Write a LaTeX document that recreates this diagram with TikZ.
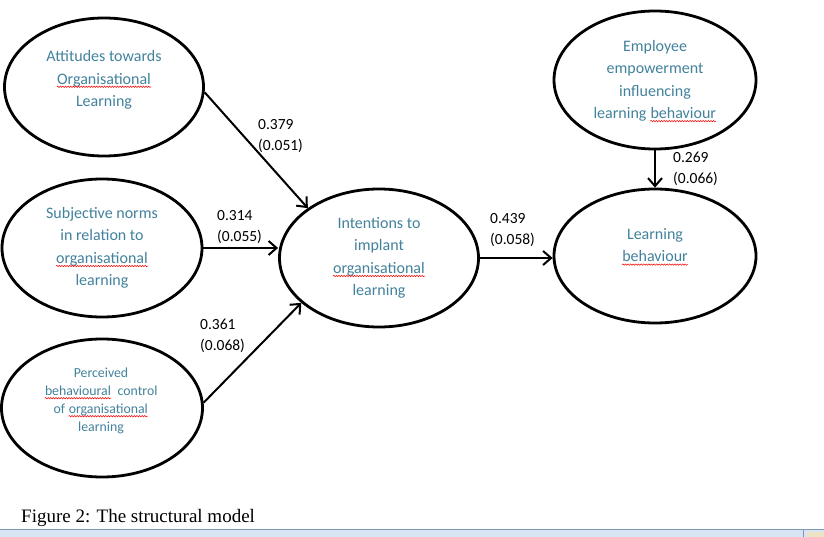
\documentclass[tikz,border=0pt]{standalone}
\usepackage{fontspec}
\setmainfont{Carlito}
\newfontfamily\captionfont{Liberation Serif}
\usepackage{xcolor}
\usetikzlibrary{
  shapes.geometric,
  arrows.meta,
  backgrounds,
  decorations.pathmorphing
}
\definecolor{mytextcolor}{RGB}{66,130,156}
\definecolor{mybarcolor}{RGB}{216,228,244}
\definecolor{mybarline}{RGB}{125,155,175}
\definecolor{mybeige}{RGB}{236,226,196}
\newcommand{\spellwave}[1]{\tikz[baseline=(word.base)]{\node[inner sep=0pt] (word) {#1}; \draw[red, line width=0.5pt, decorate, decoration={snake, amplitude=0.7pt, segment length=2.6pt}] ([yshift=-2.6pt]word.base west) -- ([yshift=-2.6pt]word.base east);}}

\begin{document}
\begin{tikzpicture}[
  x=1pt, y=-1pt,
  my_oval/.style={
    draw,
    ellipse,
    line width=2.8pt,
    minimum width=199pt,
    minimum height=138pt,
    inner sep=0pt,
  },
  my_text/.style={
    align=center,
    text=mytextcolor,
    inner sep=0pt,
    font=\fontsize{16}{22.5}\selectfont,
  },
  my_coef/.style={
    align=left,
    anchor=west,
    inner sep=0pt,
    font=\fontsize{15.5}{21}\selectfont,
  },
  my_arrow/.style={
    line width=2pt,
    -{Straight Barb[length=8pt,width=14pt]},
  }
  ]

  \path[use as bounding box] (0,0) rectangle (824,537);

  \begin{scope}[on background layer]
    \fill[white] (current bounding box.south west) rectangle (current bounding box.north east);
  \end{scope}

  \node[my_oval] (attitudes) at (104,87) {};
  \node[my_text] (attitudes_text) at (104,80) {Attitudes towards\\\spellwave{Organisational}\\Learning};

  \node[my_oval, minimum width=200pt] (norms) at (102,248) {};
  \node[my_text] (norms_text) at (102,248) {Subjective norms\\in relation to\\\spellwave{organisational}\\learning};

  \node[my_oval, minimum width=201pt] (control) at (102,408) {};
  \node[my_text, font=\fontsize{13.8}{18}\selectfont] (control_text) at (101,401) {Perceived\\\spellwave{behavioural}\ \ control\\of \spellwave{organisational}\\learning};

  \node[my_oval] (intentions) at (379,258) {};
  \node[my_text] (intentions_text) at (379,258) {Intentions to\\implant\\\spellwave{organisational}\\learning};

  \node[my_oval, minimum width=202pt, minimum height=134pt] (behaviour) at (655,256) {};
  \node[my_text] (behaviour_text) at (655,247) {Learning\\\spellwave{behaviour}};

  \node[my_oval, minimum width=202pt] (empowerment) at (655,80) {};
  \node[my_text] (empowerment_text) at (655,81) {Employee\\empowerment\\influencing\\learning \spellwave{behaviour}};

  \draw[my_arrow] (attitudes.-3) -- (intentions.145);
  \draw[my_arrow] (norms.east) -- (intentions.west |- norms.east);
  \draw[my_arrow] (control.3) -- (intentions.210);
  \draw[my_arrow] (intentions.east) -- (behaviour.west |- intentions.east);
  \draw[my_arrow] (empowerment.south) -- (behaviour.north);

  \node[my_coef] (coef_attitudes) at (258,136) {0.379\\(0.051)};
  \node[my_coef] (coef_norms) at (217,227) {0.314\\(0.055)};
  \node[my_coef] (coef_control) at (200,336) {0.361\\(0.068)};
  \node[my_coef] (coef_intentions) at (490,230) {0.439\\(0.058)};
  \node[my_coef] (coef_empowerment) at (673,169) {0.269\\(0.066)};

  \node[anchor=base west, inner sep=0pt, font=\captionfont\fontsize{19}{22}\selectfont] (caption) at (21,522) {Figure 2: The structural model};

  \fill[mybarcolor] (0,529) rectangle (824,537);
  \draw[mybarline, line width=1pt] (0,529.5) -- (824,529.5);
  \draw[mybarline, line width=0.8pt] (803,530) -- (803,537);
  \fill[mybeige] (807,532) rectangle (824,537);

\end{tikzpicture}
\end{document}
